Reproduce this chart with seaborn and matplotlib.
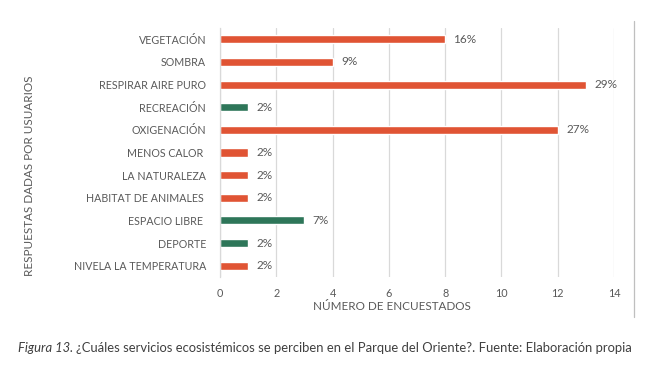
import matplotlib
matplotlib.use("Agg")
import matplotlib.pyplot as plt
import seaborn as sns
import pandas as pd
from matplotlib.lines import Line2D

categories = ["VEGETACIÓN", "SOMBRA", "RESPIRAR AIRE PURO", "RECREACIÓN", "OXIGENACIÓN",
              "MENOS CALOR ", "LA NATURALEZA", "HABITAT DE ANIMALES ", "ESPACIO LIBRE ",
              "DEPORTE", "NIVELA LA TEMPERATURA"]
values = [8, 4, 13, 1, 12, 1, 1, 1, 3, 1, 1]
pct_labels = ["16%", "9%", "29%", "2%", "27%", "2%", "2%", "2%", "7%", "2%", "2%"]
groups = ["o", "o", "o", "g", "o", "o", "o", "o", "g", "g", "o"]
xticks = [0, 2, 4, 6, 8, 10, 12, 14]

ORANGE = "#E05434"
GREEN = "#2E7659"
colors = [ORANGE if g == "o" else GREEN for g in groups]

df = pd.DataFrame({"cat": categories, "val": values})

sns.set_style("white")
FONT = ["Lato", "DejaVu Sans"]
plt.rcParams["font.family"] = FONT
TXT = "#595959"

fig = plt.figure(figsize=(6.5, 3.7), dpi=100)
ax = fig.add_axes([220/650, 1-277/370, (614-220)/650, (277-28)/370])

sns.barplot(data=df, y="cat", x="val", hue="cat", palette=colors, legend=False,
            width=0.36, ax=ax, orient="h", saturation=1)

for cont, lab in zip(ax.containers, pct_labels):
    ax.bar_label(cont, labels=[lab], padding=6, fontsize=8.5, color=TXT)

ax.set_xlim(0, 14)
ax.set_xticks(xticks)
ax.set_xticklabels([str(t) for t in xticks], fontsize=7.8, color=TXT)
ax.tick_params(axis="x", length=0, pad=8)
ax.tick_params(axis="y", length=0, pad=10, labelsize=7.7, labelcolor=TXT)
ax.xaxis.grid(True, color="#D9D9D9", linewidth=0.9)
ax.set_axisbelow(True)
for s in ["top", "right", "bottom"]:
    ax.spines[s].set_visible(False)
ax.spines["left"].set_color("#D9D9D9")
ax.spines["left"].set_linewidth(0.9)

ax.set_xlabel("NÚMERO DE ENCUESTADOS", fontsize=8.4, color=TXT)
ax.xaxis.set_label_coords((392-220)/(614-220), -(306-277)/(277-28), transform=ax.transAxes)
ax.xaxis.label.set_va("center")
ax.set_ylabel("")
fig.text(30/650, 1-176/370, "RESPUESTAS DADAS POR USUARIOS", rotation=90,
         ha="center", va="center", fontsize=8.4, color=TXT)

# chart frame right edge
fig.add_artist(Line2D([634/650, 634/650], [1-21/370, 1-317/370], color="#BFBFBF",
                      linewidth=0.9, transform=fig.transFigure))

# caption
fig.canvas.draw()
r = fig.canvas.get_renderer()
t1 = fig.text(18/650, 1-348/370, "Figura 13.", fontsize=9.4, style="italic",
              color="#404040", va="center", ha="left")
bb = t1.get_window_extent(renderer=r)
fig.text((bb.x1 + 3)/650, 1-348/370,
         "¿Cuáles servicios ecosistémicos se perciben en el Parque del Oriente?. Fuente: Elaboración propia",
         fontsize=9.4, color="#404040", va="center", ha="left")

fig.savefig("out.png", dpi=100)
